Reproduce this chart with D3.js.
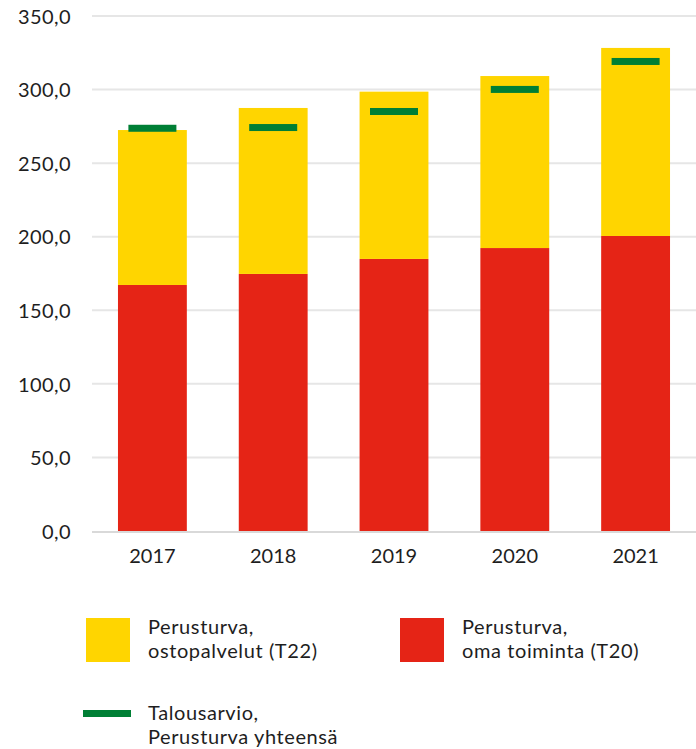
<!DOCTYPE html>
<meta charset="utf-8">
<style>
  body { margin: 0; background: #fff; }
  text { font-family: Lato, "Open Sans", sans-serif; fill: #1e1e1e; }
</style>
<svg width="696" height="749"></svg>
<script src="https://d3js.org/d3.v7.min.js"></script>
<script>
  var years = ['2017', '2018', '2019', '2020', '2021']
  var omaToiminta = [167.2, 174.7, 184.9, 192.3, 200.5]
  var ostopalvelut = [105.3, 112.8, 113.7, 116.9, 127.8]
  var talousarvio = [273.7, 274.2, 285.1, 300.1, 319.1]
  var yTicks = [0, 50, 100, 150, 200, 250, 300, 350]

  var svg = d3.select('svg')
  var plotLeft = 92, plotRight = 696, plotTop = 16, plotBottom = 531

  var x = d3.scaleBand().domain(years).range([plotLeft, plotRight])
    .paddingInner(0.43).paddingOuter(0.215)
  var y = d3.scaleLinear().domain([0, 350]).range([plotBottom, plotTop])

  var fmt = function(d) { return d3.format('.1f')(d).replace('.', ',') }

  // grid lines
  svg.append('g')
    .selectAll('line')
    .data(yTicks.filter(function(d) { return d > 0 }))
    .enter().append('line')
    .attr('x1', plotLeft).attr('x2', plotRight)
    .attr('y1', function(d) { return y(d) }).attr('y2', function(d) { return y(d) })
    .attr('stroke', '#e6e6e6').attr('stroke-width', 2)

  var yAxis = svg.append('g')
    .attr('transform', 'translate(' + 71 + ',0)')
    .call(d3.axisLeft(y).tickValues(yTicks).tickFormat(fmt).tickSize(0).tickPadding(0))
  yAxis.select('.domain').remove()
  yAxis.selectAll('text').attr('font-size', 20).attr('letter-spacing', 0.4).attr('dy', '0.36em')

  // bars
  svg.append('g').selectAll('rect')
    .data(years).enter().append('rect')
    .attr('x', function(d) { return x(d) })
    .attr('width', x.bandwidth())
    .attr('y', function(d, i) { return y(omaToiminta[i]) })
    .attr('height', function(d, i) { return y(0) - y(omaToiminta[i]) })
    .attr('fill', '#e52416')

  svg.append('g').selectAll('rect')
    .data(years).enter().append('rect')
    .attr('x', function(d) { return x(d) })
    .attr('width', x.bandwidth())
    .attr('y', function(d, i) { return y(omaToiminta[i] + ostopalvelut[i]) })
    .attr('height', function(d, i) { return y(omaToiminta[i]) - y(omaToiminta[i] + ostopalvelut[i]) })
    .attr('fill', '#ffd500')

  // budget markers
  svg.append('g').selectAll('rect')
    .data(years).enter().append('rect')
    .attr('x', function(d) { return x(d) + x.bandwidth() / 2 - 24 })
    .attr('width', 48)
    .attr('y', function(d, i) { return y(talousarvio[i]) - 3.5 })
    .attr('height', 7)
    .attr('fill', '#007f35')

  // x axis
  svg.append('line')
    .attr('x1', plotLeft).attr('x2', plotRight)
    .attr('y1', plotBottom + 1).attr('y2', plotBottom + 1)
    .attr('stroke', '#d9d9d9').attr('stroke-width', 2)

  var xAxis = svg.append('g')
    .attr('transform', 'translate(0,' + plotBottom + ')')
    .call(d3.axisBottom(x).tickSize(0).tickPadding(18))
  xAxis.select('.domain').remove()
  xAxis.selectAll('text').attr('font-size', 20)

  // legend
  var legend = svg.append('g')
  var items = [
    { kind: 'box', color: '#ffd500', x: 86, y: 618, lines: ['Perusturva,', 'ostopalvelut (T22)'], tx: 148, ty: 634 },
    { kind: 'box', color: '#e52416', x: 400, y: 618, lines: ['Perusturva,', 'oma toiminta (T20)'], tx: 462, ty: 634 },
    { kind: 'line', color: '#007f35', x: 83, y: 710, lines: ['Talousarvio,', 'Perusturva yhteensä'], tx: 148, ty: 720 }
  ]
  items.forEach(function(it) {
    if (it.kind === 'box') {
      legend.append('rect').attr('x', it.x).attr('y', it.y).attr('width', 44).attr('height', 44).attr('fill', it.color)
    } else {
      legend.append('rect').attr('x', it.x).attr('y', it.y).attr('width', 48).attr('height', 7).attr('fill', it.color)
    }
    var t = legend.append('text').attr('x', it.tx).attr('y', it.ty)
      .attr('font-size', 20).attr('letter-spacing', 0.6)
    it.lines.forEach(function(l, i) {
      t.append('tspan').attr('x', it.tx).attr('dy', i === 0 ? 0 : 24).text(l)
    })
  })
</script>
